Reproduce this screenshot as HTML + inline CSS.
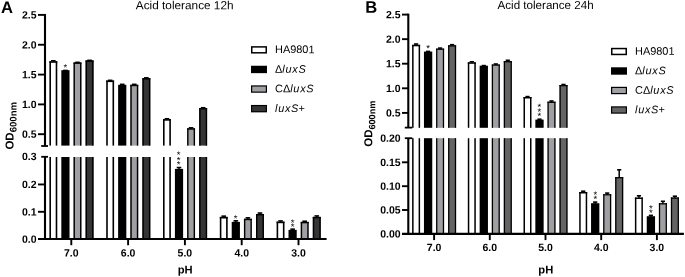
<!DOCTYPE html>
<html><head><meta charset="utf-8"><title>Acid tolerance</title>
<style>
html,body{margin:0;padding:0;background:#fff;}
body{width:685px;height:277px;overflow:hidden;}
svg{display:block;font-family:'Liberation Sans', sans-serif;}
</style></head><body>
<svg width="685" height="277" viewBox="0 0 685 277" font-family="'Liberation Sans', sans-serif">
<rect width="685" height="277" fill="#fff"/>
<rect x="49.39" y="61.20" width="7.90" height="84.40" fill="#ffffff"/>
<rect x="49.39" y="61.20" width="1.60" height="84.40" fill="#000"/>
<rect x="55.69" y="61.20" width="1.60" height="84.40" fill="#000"/>
<rect x="49.39" y="61.20" width="7.90" height="1.60" fill="#000"/>
<rect x="49.39" y="157.00" width="7.90" height="82.00" fill="#ffffff"/>
<rect x="49.39" y="157.00" width="1.60" height="82.00" fill="#000"/>
<rect x="55.69" y="157.00" width="1.60" height="82.00" fill="#000"/>
<line x1="53.34" y1="60.80" x2="53.34" y2="61.70" stroke="#000" stroke-width="1.5" stroke-linecap="butt"/>
<line x1="51.04" y1="60.80" x2="55.64" y2="60.80" stroke="#000" stroke-width="1.6" stroke-linecap="butt"/>
<rect x="61.32" y="70.20" width="8.20" height="75.40" fill="#000000"/>
<rect x="61.32" y="157.00" width="8.20" height="82.00" fill="#000000"/>
<line x1="65.42" y1="70.45" x2="65.42" y2="70.70" stroke="#000" stroke-width="1.5" stroke-linecap="butt"/>
<line x1="63.12" y1="70.45" x2="67.72" y2="70.45" stroke="#000" stroke-width="1.6" stroke-linecap="butt"/>
<rect x="73.53" y="62.50" width="7.90" height="83.10" fill="#a0a0a4"/>
<rect x="73.53" y="62.50" width="1.40" height="83.10" fill="#000"/>
<rect x="80.03" y="62.50" width="1.40" height="83.10" fill="#000"/>
<rect x="73.53" y="62.50" width="7.90" height="1.40" fill="#000"/>
<rect x="73.53" y="157.00" width="7.90" height="82.00" fill="#a0a0a4"/>
<rect x="73.53" y="157.00" width="1.40" height="82.00" fill="#000"/>
<rect x="80.03" y="157.00" width="1.40" height="82.00" fill="#000"/>
<line x1="77.48" y1="62.35" x2="77.48" y2="63.00" stroke="#000" stroke-width="1.5" stroke-linecap="butt"/>
<line x1="75.19" y1="62.35" x2="79.78" y2="62.35" stroke="#000" stroke-width="1.6" stroke-linecap="butt"/>
<rect x="85.61" y="60.50" width="7.90" height="85.10" fill="#353535"/>
<rect x="85.61" y="60.50" width="1.40" height="85.10" fill="#000"/>
<rect x="92.11" y="60.50" width="1.40" height="85.10" fill="#000"/>
<rect x="85.61" y="60.50" width="7.90" height="1.40" fill="#000"/>
<rect x="85.61" y="157.00" width="7.90" height="82.00" fill="#353535"/>
<rect x="85.61" y="157.00" width="1.40" height="82.00" fill="#000"/>
<rect x="92.11" y="157.00" width="1.40" height="82.00" fill="#000"/>
<line x1="89.56" y1="60.35" x2="89.56" y2="61.00" stroke="#000" stroke-width="1.5" stroke-linecap="butt"/>
<line x1="87.26" y1="60.35" x2="91.86" y2="60.35" stroke="#000" stroke-width="1.6" stroke-linecap="butt"/>
<rect x="106.19" y="80.50" width="7.90" height="65.10" fill="#ffffff"/>
<rect x="106.19" y="80.50" width="1.60" height="65.10" fill="#000"/>
<rect x="112.50" y="80.50" width="1.60" height="65.10" fill="#000"/>
<rect x="106.19" y="80.50" width="7.90" height="1.60" fill="#000"/>
<rect x="106.19" y="157.00" width="7.90" height="82.00" fill="#ffffff"/>
<rect x="106.19" y="157.00" width="1.60" height="82.00" fill="#000"/>
<rect x="112.50" y="157.00" width="1.60" height="82.00" fill="#000"/>
<line x1="110.14" y1="80.35" x2="110.14" y2="81.00" stroke="#000" stroke-width="1.5" stroke-linecap="butt"/>
<line x1="107.84" y1="80.35" x2="112.44" y2="80.35" stroke="#000" stroke-width="1.6" stroke-linecap="butt"/>
<rect x="118.12" y="84.80" width="8.20" height="60.80" fill="#000000"/>
<rect x="118.12" y="157.00" width="8.20" height="82.00" fill="#000000"/>
<line x1="122.22" y1="84.35" x2="122.22" y2="85.30" stroke="#000" stroke-width="1.5" stroke-linecap="butt"/>
<line x1="119.92" y1="84.35" x2="124.52" y2="84.35" stroke="#000" stroke-width="1.6" stroke-linecap="butt"/>
<rect x="130.34" y="84.80" width="7.90" height="60.80" fill="#a0a0a4"/>
<rect x="130.34" y="84.80" width="1.40" height="60.80" fill="#000"/>
<rect x="136.83" y="84.80" width="1.40" height="60.80" fill="#000"/>
<rect x="130.34" y="84.80" width="7.90" height="1.40" fill="#000"/>
<rect x="130.34" y="157.00" width="7.90" height="82.00" fill="#a0a0a4"/>
<rect x="130.34" y="157.00" width="1.40" height="82.00" fill="#000"/>
<rect x="136.83" y="157.00" width="1.40" height="82.00" fill="#000"/>
<line x1="134.28" y1="84.35" x2="134.28" y2="85.30" stroke="#000" stroke-width="1.5" stroke-linecap="butt"/>
<line x1="131.98" y1="84.35" x2="136.59" y2="84.35" stroke="#000" stroke-width="1.6" stroke-linecap="butt"/>
<rect x="142.41" y="78.20" width="7.90" height="67.40" fill="#353535"/>
<rect x="142.41" y="78.20" width="1.40" height="67.40" fill="#000"/>
<rect x="148.90" y="78.20" width="1.40" height="67.40" fill="#000"/>
<rect x="142.41" y="78.20" width="7.90" height="1.40" fill="#000"/>
<rect x="142.41" y="157.00" width="7.90" height="82.00" fill="#353535"/>
<rect x="142.41" y="157.00" width="1.40" height="82.00" fill="#000"/>
<rect x="148.90" y="157.00" width="1.40" height="82.00" fill="#000"/>
<line x1="146.35" y1="77.85" x2="146.35" y2="78.70" stroke="#000" stroke-width="1.5" stroke-linecap="butt"/>
<line x1="144.05" y1="77.85" x2="148.66" y2="77.85" stroke="#000" stroke-width="1.6" stroke-linecap="butt"/>
<rect x="163.00" y="119.10" width="7.90" height="26.50" fill="#ffffff"/>
<rect x="163.00" y="119.10" width="1.60" height="26.50" fill="#000"/>
<rect x="169.29" y="119.10" width="1.60" height="26.50" fill="#000"/>
<rect x="163.00" y="119.10" width="7.90" height="1.60" fill="#000"/>
<rect x="163.00" y="157.00" width="7.90" height="82.00" fill="#ffffff"/>
<rect x="163.00" y="157.00" width="1.60" height="82.00" fill="#000"/>
<rect x="169.29" y="157.00" width="1.60" height="82.00" fill="#000"/>
<line x1="166.94" y1="118.75" x2="166.94" y2="119.60" stroke="#000" stroke-width="1.5" stroke-linecap="butt"/>
<line x1="164.64" y1="118.75" x2="169.25" y2="118.75" stroke="#000" stroke-width="1.6" stroke-linecap="butt"/>
<rect x="174.91" y="168.90" width="8.20" height="70.10" fill="#000000"/>
<line x1="179.01" y1="167.55" x2="179.01" y2="169.40" stroke="#000" stroke-width="1.5" stroke-linecap="butt"/>
<line x1="176.71" y1="167.55" x2="181.31" y2="167.55" stroke="#000" stroke-width="1.6" stroke-linecap="butt"/>
<rect x="187.13" y="128.30" width="7.90" height="17.30" fill="#a0a0a4"/>
<rect x="187.13" y="128.30" width="1.40" height="17.30" fill="#000"/>
<rect x="193.63" y="128.30" width="1.40" height="17.30" fill="#000"/>
<rect x="187.13" y="128.30" width="7.90" height="1.40" fill="#000"/>
<rect x="187.13" y="157.00" width="7.90" height="82.00" fill="#a0a0a4"/>
<rect x="187.13" y="157.00" width="1.40" height="82.00" fill="#000"/>
<rect x="193.63" y="157.00" width="1.40" height="82.00" fill="#000"/>
<line x1="191.08" y1="127.85" x2="191.08" y2="128.80" stroke="#000" stroke-width="1.5" stroke-linecap="butt"/>
<line x1="188.78" y1="127.85" x2="193.38" y2="127.85" stroke="#000" stroke-width="1.6" stroke-linecap="butt"/>
<rect x="199.20" y="108.10" width="7.90" height="37.50" fill="#353535"/>
<rect x="199.20" y="108.10" width="1.40" height="37.50" fill="#000"/>
<rect x="205.70" y="108.10" width="1.40" height="37.50" fill="#000"/>
<rect x="199.20" y="108.10" width="7.90" height="1.40" fill="#000"/>
<rect x="199.20" y="157.00" width="7.90" height="82.00" fill="#353535"/>
<rect x="199.20" y="157.00" width="1.40" height="82.00" fill="#000"/>
<rect x="205.70" y="157.00" width="1.40" height="82.00" fill="#000"/>
<line x1="203.15" y1="107.75" x2="203.15" y2="108.60" stroke="#000" stroke-width="1.5" stroke-linecap="butt"/>
<line x1="200.85" y1="107.75" x2="205.45" y2="107.75" stroke="#000" stroke-width="1.6" stroke-linecap="butt"/>
<rect x="219.80" y="216.90" width="7.90" height="22.10" fill="#ffffff"/>
<rect x="219.80" y="216.90" width="1.60" height="22.10" fill="#000"/>
<rect x="226.09" y="216.90" width="1.60" height="22.10" fill="#000"/>
<rect x="219.80" y="216.90" width="7.90" height="1.60" fill="#000"/>
<line x1="223.75" y1="216.15" x2="223.75" y2="217.40" stroke="#000" stroke-width="1.5" stroke-linecap="butt"/>
<line x1="221.44" y1="216.15" x2="226.05" y2="216.15" stroke="#000" stroke-width="1.6" stroke-linecap="butt"/>
<rect x="231.72" y="221.90" width="8.20" height="17.10" fill="#000000"/>
<line x1="235.81" y1="220.85" x2="235.81" y2="222.40" stroke="#000" stroke-width="1.5" stroke-linecap="butt"/>
<line x1="233.51" y1="220.85" x2="238.12" y2="220.85" stroke="#000" stroke-width="1.6" stroke-linecap="butt"/>
<rect x="243.94" y="218.80" width="7.90" height="20.20" fill="#a0a0a4"/>
<rect x="243.94" y="218.80" width="1.40" height="20.20" fill="#000"/>
<rect x="250.43" y="218.80" width="1.40" height="20.20" fill="#000"/>
<rect x="243.94" y="218.80" width="7.90" height="1.40" fill="#000"/>
<line x1="247.88" y1="217.85" x2="247.88" y2="219.30" stroke="#000" stroke-width="1.5" stroke-linecap="butt"/>
<line x1="245.58" y1="217.85" x2="250.19" y2="217.85" stroke="#000" stroke-width="1.6" stroke-linecap="butt"/>
<rect x="256.00" y="214.00" width="7.90" height="25.00" fill="#353535"/>
<rect x="256.00" y="214.00" width="1.40" height="25.00" fill="#000"/>
<rect x="262.50" y="214.00" width="1.40" height="25.00" fill="#000"/>
<rect x="256.00" y="214.00" width="7.90" height="1.40" fill="#000"/>
<line x1="259.95" y1="213.05" x2="259.95" y2="214.50" stroke="#000" stroke-width="1.5" stroke-linecap="butt"/>
<line x1="257.65" y1="213.05" x2="262.25" y2="213.05" stroke="#000" stroke-width="1.6" stroke-linecap="butt"/>
<rect x="276.59" y="221.60" width="7.90" height="17.40" fill="#ffffff"/>
<rect x="276.59" y="221.60" width="1.60" height="17.40" fill="#000"/>
<rect x="282.89" y="221.60" width="1.60" height="17.40" fill="#000"/>
<rect x="276.59" y="221.60" width="7.90" height="1.60" fill="#000"/>
<line x1="280.54" y1="220.95" x2="280.54" y2="222.10" stroke="#000" stroke-width="1.5" stroke-linecap="butt"/>
<line x1="278.24" y1="220.95" x2="282.84" y2="220.95" stroke="#000" stroke-width="1.6" stroke-linecap="butt"/>
<rect x="288.51" y="229.90" width="8.20" height="9.10" fill="#000000"/>
<line x1="292.61" y1="229.15" x2="292.61" y2="230.40" stroke="#000" stroke-width="1.5" stroke-linecap="butt"/>
<line x1="290.31" y1="229.15" x2="294.91" y2="229.15" stroke="#000" stroke-width="1.6" stroke-linecap="butt"/>
<rect x="300.74" y="221.90" width="7.90" height="17.10" fill="#a0a0a4"/>
<rect x="300.74" y="221.90" width="1.40" height="17.10" fill="#000"/>
<rect x="307.24" y="221.90" width="1.40" height="17.10" fill="#000"/>
<rect x="300.74" y="221.90" width="7.90" height="1.40" fill="#000"/>
<line x1="304.69" y1="221.25" x2="304.69" y2="222.40" stroke="#000" stroke-width="1.5" stroke-linecap="butt"/>
<line x1="302.38" y1="221.25" x2="306.99" y2="221.25" stroke="#000" stroke-width="1.6" stroke-linecap="butt"/>
<rect x="312.81" y="216.90" width="7.90" height="22.10" fill="#353535"/>
<rect x="312.81" y="216.90" width="1.40" height="22.10" fill="#000"/>
<rect x="319.31" y="216.90" width="1.40" height="22.10" fill="#000"/>
<rect x="312.81" y="216.90" width="7.90" height="1.40" fill="#000"/>
<line x1="316.75" y1="215.95" x2="316.75" y2="217.40" stroke="#000" stroke-width="1.5" stroke-linecap="butt"/>
<line x1="314.45" y1="215.95" x2="319.06" y2="215.95" stroke="#000" stroke-width="1.6" stroke-linecap="butt"/>
<line x1="45.00" y1="13.95" x2="45.00" y2="146.00" stroke="#000" stroke-width="2.1" stroke-linecap="butt"/>
<line x1="45.00" y1="156.80" x2="45.00" y2="239.00" stroke="#000" stroke-width="2.1" stroke-linecap="butt"/>
<line x1="41.20" y1="146.00" x2="48.00" y2="146.00" stroke="#000" stroke-width="1.8" stroke-linecap="butt"/>
<line x1="41.20" y1="156.80" x2="48.00" y2="156.80" stroke="#000" stroke-width="1.8" stroke-linecap="butt"/>
<line x1="38.00" y1="239.00" x2="326.60" y2="239.00" stroke="#000" stroke-width="2.2" stroke-linecap="butt"/>
<line x1="38.00" y1="14.90" x2="45.00" y2="14.90" stroke="#000" stroke-width="1.9000000000000001" stroke-linecap="butt"/>
<text transform="translate(36.60,18.55) rotate(0.05)" font-size="10.5" font-weight="bold" font-style="normal" text-anchor="end" fill="#000" >2.5</text>
<line x1="38.00" y1="44.75" x2="45.00" y2="44.75" stroke="#000" stroke-width="1.9000000000000001" stroke-linecap="butt"/>
<text transform="translate(36.60,48.40) rotate(0.05)" font-size="10.5" font-weight="bold" font-style="normal" text-anchor="end" fill="#000" >2.0</text>
<line x1="38.00" y1="74.60" x2="45.00" y2="74.60" stroke="#000" stroke-width="1.9000000000000001" stroke-linecap="butt"/>
<text transform="translate(36.60,78.25) rotate(0.05)" font-size="10.5" font-weight="bold" font-style="normal" text-anchor="end" fill="#000" >1.5</text>
<line x1="38.00" y1="104.40" x2="45.00" y2="104.40" stroke="#000" stroke-width="1.9000000000000001" stroke-linecap="butt"/>
<text transform="translate(36.60,108.05) rotate(0.05)" font-size="10.5" font-weight="bold" font-style="normal" text-anchor="end" fill="#000" >1.0</text>
<line x1="38.00" y1="134.20" x2="45.00" y2="134.20" stroke="#000" stroke-width="1.9000000000000001" stroke-linecap="butt"/>
<text transform="translate(36.60,137.85) rotate(0.05)" font-size="10.5" font-weight="bold" font-style="normal" text-anchor="end" fill="#000" >0.5</text>
<text transform="translate(36.60,159.95) rotate(0.05)" font-size="10.5" font-weight="bold" font-style="normal" text-anchor="end" fill="#000" >0.3</text>
<line x1="38.00" y1="184.45" x2="45.00" y2="184.45" stroke="#000" stroke-width="1.9000000000000001" stroke-linecap="butt"/>
<text transform="translate(36.60,188.10) rotate(0.05)" font-size="10.5" font-weight="bold" font-style="normal" text-anchor="end" fill="#000" >0.2</text>
<line x1="38.00" y1="211.80" x2="45.00" y2="211.80" stroke="#000" stroke-width="1.9000000000000001" stroke-linecap="butt"/>
<text transform="translate(36.60,215.45) rotate(0.05)" font-size="10.5" font-weight="bold" font-style="normal" text-anchor="end" fill="#000" >0.1</text>
<text transform="translate(36.60,242.65) rotate(0.05)" font-size="10.5" font-weight="bold" font-style="normal" text-anchor="end" fill="#000" >0.0</text>
<line x1="71.30" y1="239.00" x2="71.30" y2="245.20" stroke="#000" stroke-width="1.9000000000000001" stroke-linecap="butt"/>
<text transform="translate(71.30,256.60) rotate(0.05)" font-size="10.5" font-weight="bold" font-style="normal" text-anchor="middle" fill="#000" >7.0</text>
<line x1="128.10" y1="239.00" x2="128.10" y2="245.20" stroke="#000" stroke-width="1.9000000000000001" stroke-linecap="butt"/>
<text transform="translate(128.10,256.60) rotate(0.05)" font-size="10.5" font-weight="bold" font-style="normal" text-anchor="middle" fill="#000" >6.0</text>
<line x1="184.90" y1="239.00" x2="184.90" y2="245.20" stroke="#000" stroke-width="1.9000000000000001" stroke-linecap="butt"/>
<text transform="translate(184.90,256.60) rotate(0.05)" font-size="10.5" font-weight="bold" font-style="normal" text-anchor="middle" fill="#000" >5.0</text>
<line x1="241.70" y1="239.00" x2="241.70" y2="245.20" stroke="#000" stroke-width="1.9000000000000001" stroke-linecap="butt"/>
<text transform="translate(241.70,256.60) rotate(0.05)" font-size="10.5" font-weight="bold" font-style="normal" text-anchor="middle" fill="#000" >4.0</text>
<line x1="298.50" y1="239.00" x2="298.50" y2="245.20" stroke="#000" stroke-width="1.9000000000000001" stroke-linecap="butt"/>
<text transform="translate(298.50,256.60) rotate(0.05)" font-size="10.5" font-weight="bold" font-style="normal" text-anchor="middle" fill="#000" >3.0</text>
<text transform="translate(185.10,273.50) rotate(0.05)" font-size="11.2" font-weight="bold" font-style="normal" text-anchor="middle" fill="#000" >pH</text>
<text transform="translate(184.70,9.20) rotate(0.05)" font-size="11.8" font-weight="normal" font-style="normal" text-anchor="middle" fill="#000" >Acid tolerance 12h</text>
<text transform="translate(1.00,12.90) rotate(0.05)" font-size="16.6" font-weight="bold" font-style="normal" text-anchor="start" fill="#000" >A</text>
<text transform="translate(13.5,149.6) rotate(-89.95)" font-size="11.5" font-weight="bold" text-anchor="start">OD<tspan font-size="9.6" dy="3.0">600nm</tspan></text>
<rect x="251.00" y="46.15" width="16" height="7.4" fill="#000"/>
<rect x="252.50" y="47.65" width="13.0" height="4.4" fill="#ffffff"/>
<text transform="translate(275.00,53.10) rotate(0.05)" font-size="10.95" font-weight="normal" font-style="normal" text-anchor="start" fill="#000" >HA9801</text>
<rect x="251.00" y="65.75" width="16" height="7.4" fill="#000"/>
<text transform="translate(275.00,72.70) rotate(0.05)" font-size="10.95" font-weight="normal" font-style="normal" text-anchor="start" fill="#000" >Δ<tspan font-style="italic" letter-spacing="0.7">lux</tspan><tspan font-style="italic">S</tspan></text>
<rect x="251.00" y="85.35" width="16" height="7.4" fill="#000"/>
<rect x="252.20" y="86.55" width="13.6" height="5.0" fill="#a0a0a4"/>
<text transform="translate(275.00,92.30) rotate(0.05)" font-size="10.95" font-weight="normal" font-style="normal" text-anchor="start" fill="#000" >CΔ<tspan font-style="italic" letter-spacing="0.7">lux</tspan><tspan font-style="italic">S</tspan></text>
<rect x="251.00" y="104.95" width="16" height="7.4" fill="#000"/>
<rect x="252.20" y="106.15" width="13.6" height="5.0" fill="#353535"/>
<text transform="translate(275.00,111.90) rotate(0.05)" font-size="10.95" font-weight="normal" font-style="normal" text-anchor="start" fill="#000" ><tspan font-style="italic" letter-spacing="0.7">lux</tspan><tspan font-style="italic">S</tspan>+</text>
<text transform="translate(65.40,70.80) rotate(0.05)" font-size="9.5" font-weight="normal" font-style="normal" text-anchor="middle" fill="#000" >*</text>
<text transform="translate(178.60,158.10) rotate(0.05)" font-size="9.5" font-weight="normal" font-style="normal" text-anchor="middle" fill="#000" >*</text>
<text transform="translate(178.60,163.40) rotate(0.05)" font-size="9.5" font-weight="normal" font-style="normal" text-anchor="middle" fill="#000" >*</text>
<text transform="translate(178.60,167.80) rotate(0.05)" font-size="9.5" font-weight="normal" font-style="normal" text-anchor="middle" fill="#000" >*</text>
<text transform="translate(235.50,221.70) rotate(0.05)" font-size="9.5" font-weight="normal" font-style="normal" text-anchor="middle" fill="#000" >*</text>
<text transform="translate(292.60,225.90) rotate(0.05)" font-size="9.5" font-weight="normal" font-style="normal" text-anchor="middle" fill="#000" >*</text>
<text transform="translate(292.60,229.90) rotate(0.05)" font-size="9.5" font-weight="normal" font-style="normal" text-anchor="middle" fill="#000" >*</text>
<rect x="412.10" y="44.80" width="8.00" height="83.00" fill="#ffffff"/>
<rect x="412.10" y="44.80" width="1.50" height="83.00" fill="#000"/>
<rect x="418.60" y="44.80" width="1.50" height="83.00" fill="#000"/>
<rect x="412.10" y="44.80" width="8.00" height="1.50" fill="#000"/>
<rect x="412.10" y="138.20" width="8.00" height="95.70" fill="#ffffff"/>
<rect x="412.10" y="138.20" width="1.50" height="95.70" fill="#000"/>
<rect x="418.60" y="138.20" width="1.50" height="95.70" fill="#000"/>
<line x1="416.10" y1="44.00" x2="416.10" y2="45.30" stroke="#000" stroke-width="1.5" stroke-linecap="butt"/>
<line x1="414.00" y1="44.00" x2="418.20" y2="44.00" stroke="#000" stroke-width="1.6" stroke-linecap="butt"/>
<rect x="423.95" y="51.60" width="8.30" height="76.20" fill="#000000"/>
<rect x="423.95" y="138.20" width="8.30" height="95.70" fill="#000000"/>
<line x1="428.10" y1="51.40" x2="428.10" y2="52.10" stroke="#000" stroke-width="1.5" stroke-linecap="butt"/>
<line x1="426.00" y1="51.40" x2="430.20" y2="51.40" stroke="#000" stroke-width="1.6" stroke-linecap="butt"/>
<rect x="436.10" y="48.60" width="8.00" height="79.20" fill="#a0a0a4"/>
<rect x="436.10" y="48.60" width="1.25" height="79.20" fill="#000"/>
<rect x="442.85" y="48.60" width="1.25" height="79.20" fill="#000"/>
<rect x="436.10" y="48.60" width="8.00" height="1.25" fill="#000"/>
<rect x="436.10" y="138.20" width="8.00" height="95.70" fill="#a0a0a4"/>
<rect x="436.10" y="138.20" width="1.25" height="95.70" fill="#000"/>
<rect x="442.85" y="138.20" width="1.25" height="95.70" fill="#000"/>
<line x1="440.10" y1="48.10" x2="440.10" y2="49.10" stroke="#000" stroke-width="1.5" stroke-linecap="butt"/>
<line x1="438.00" y1="48.10" x2="442.20" y2="48.10" stroke="#000" stroke-width="1.6" stroke-linecap="butt"/>
<rect x="448.10" y="45.30" width="8.00" height="82.50" fill="#646464"/>
<rect x="448.10" y="45.30" width="1.25" height="82.50" fill="#000"/>
<rect x="454.85" y="45.30" width="1.25" height="82.50" fill="#000"/>
<rect x="448.10" y="45.30" width="8.00" height="1.25" fill="#000"/>
<rect x="448.10" y="138.20" width="8.00" height="95.70" fill="#646464"/>
<rect x="448.10" y="138.20" width="1.25" height="95.70" fill="#000"/>
<rect x="454.85" y="138.20" width="1.25" height="95.70" fill="#000"/>
<line x1="452.10" y1="44.70" x2="452.10" y2="45.80" stroke="#000" stroke-width="1.5" stroke-linecap="butt"/>
<line x1="450.00" y1="44.70" x2="454.20" y2="44.70" stroke="#000" stroke-width="1.6" stroke-linecap="butt"/>
<rect x="467.80" y="62.30" width="8.00" height="65.50" fill="#ffffff"/>
<rect x="467.80" y="62.30" width="1.50" height="65.50" fill="#000"/>
<rect x="474.30" y="62.30" width="1.50" height="65.50" fill="#000"/>
<rect x="467.80" y="62.30" width="8.00" height="1.50" fill="#000"/>
<rect x="467.80" y="138.20" width="8.00" height="95.70" fill="#ffffff"/>
<rect x="467.80" y="138.20" width="1.50" height="95.70" fill="#000"/>
<rect x="474.30" y="138.20" width="1.50" height="95.70" fill="#000"/>
<line x1="471.80" y1="61.80" x2="471.80" y2="62.80" stroke="#000" stroke-width="1.5" stroke-linecap="butt"/>
<line x1="469.70" y1="61.80" x2="473.90" y2="61.80" stroke="#000" stroke-width="1.6" stroke-linecap="butt"/>
<rect x="479.65" y="65.70" width="8.30" height="62.10" fill="#000000"/>
<rect x="479.65" y="138.20" width="8.30" height="95.70" fill="#000000"/>
<line x1="483.80" y1="65.60" x2="483.80" y2="66.20" stroke="#000" stroke-width="1.5" stroke-linecap="butt"/>
<line x1="481.70" y1="65.60" x2="485.90" y2="65.60" stroke="#000" stroke-width="1.6" stroke-linecap="butt"/>
<rect x="491.80" y="64.50" width="8.00" height="63.30" fill="#a0a0a4"/>
<rect x="491.80" y="64.50" width="1.25" height="63.30" fill="#000"/>
<rect x="498.55" y="64.50" width="1.25" height="63.30" fill="#000"/>
<rect x="491.80" y="64.50" width="8.00" height="1.25" fill="#000"/>
<rect x="491.80" y="138.20" width="8.00" height="95.70" fill="#a0a0a4"/>
<rect x="491.80" y="138.20" width="1.25" height="95.70" fill="#000"/>
<rect x="498.55" y="138.20" width="1.25" height="95.70" fill="#000"/>
<line x1="495.80" y1="64.00" x2="495.80" y2="65.00" stroke="#000" stroke-width="1.5" stroke-linecap="butt"/>
<line x1="493.70" y1="64.00" x2="497.90" y2="64.00" stroke="#000" stroke-width="1.6" stroke-linecap="butt"/>
<rect x="503.80" y="61.10" width="8.00" height="66.70" fill="#646464"/>
<rect x="503.80" y="61.10" width="1.25" height="66.70" fill="#000"/>
<rect x="510.55" y="61.10" width="1.25" height="66.70" fill="#000"/>
<rect x="503.80" y="61.10" width="8.00" height="1.25" fill="#000"/>
<rect x="503.80" y="138.20" width="8.00" height="95.70" fill="#646464"/>
<rect x="503.80" y="138.20" width="1.25" height="95.70" fill="#000"/>
<rect x="510.55" y="138.20" width="1.25" height="95.70" fill="#000"/>
<line x1="507.80" y1="60.30" x2="507.80" y2="61.60" stroke="#000" stroke-width="1.5" stroke-linecap="butt"/>
<line x1="505.70" y1="60.30" x2="509.90" y2="60.30" stroke="#000" stroke-width="1.6" stroke-linecap="butt"/>
<rect x="523.50" y="97.00" width="8.00" height="30.80" fill="#ffffff"/>
<rect x="523.50" y="97.00" width="1.50" height="30.80" fill="#000"/>
<rect x="530.00" y="97.00" width="1.50" height="30.80" fill="#000"/>
<rect x="523.50" y="97.00" width="8.00" height="1.50" fill="#000"/>
<rect x="523.50" y="138.20" width="8.00" height="95.70" fill="#ffffff"/>
<rect x="523.50" y="138.20" width="1.50" height="95.70" fill="#000"/>
<rect x="530.00" y="138.20" width="1.50" height="95.70" fill="#000"/>
<line x1="527.50" y1="96.60" x2="527.50" y2="97.50" stroke="#000" stroke-width="1.5" stroke-linecap="butt"/>
<line x1="525.40" y1="96.60" x2="529.60" y2="96.60" stroke="#000" stroke-width="1.6" stroke-linecap="butt"/>
<rect x="535.35" y="119.60" width="8.30" height="8.20" fill="#000000"/>
<rect x="535.35" y="138.20" width="8.30" height="95.70" fill="#000000"/>
<line x1="539.50" y1="119.20" x2="539.50" y2="120.10" stroke="#000" stroke-width="1.5" stroke-linecap="butt"/>
<line x1="537.40" y1="119.20" x2="541.60" y2="119.20" stroke="#000" stroke-width="1.6" stroke-linecap="butt"/>
<rect x="547.50" y="101.70" width="8.00" height="26.10" fill="#a0a0a4"/>
<rect x="547.50" y="101.70" width="1.25" height="26.10" fill="#000"/>
<rect x="554.25" y="101.70" width="1.25" height="26.10" fill="#000"/>
<rect x="547.50" y="101.70" width="8.00" height="1.25" fill="#000"/>
<rect x="547.50" y="138.20" width="8.00" height="95.70" fill="#a0a0a4"/>
<rect x="547.50" y="138.20" width="1.25" height="95.70" fill="#000"/>
<rect x="554.25" y="138.20" width="1.25" height="95.70" fill="#000"/>
<line x1="551.50" y1="101.00" x2="551.50" y2="102.20" stroke="#000" stroke-width="1.5" stroke-linecap="butt"/>
<line x1="549.40" y1="101.00" x2="553.60" y2="101.00" stroke="#000" stroke-width="1.6" stroke-linecap="butt"/>
<rect x="559.50" y="85.00" width="8.00" height="42.80" fill="#646464"/>
<rect x="559.50" y="85.00" width="1.25" height="42.80" fill="#000"/>
<rect x="566.25" y="85.00" width="1.25" height="42.80" fill="#000"/>
<rect x="559.50" y="85.00" width="8.00" height="1.25" fill="#000"/>
<rect x="559.50" y="138.20" width="8.00" height="95.70" fill="#646464"/>
<rect x="559.50" y="138.20" width="1.25" height="95.70" fill="#000"/>
<rect x="566.25" y="138.20" width="1.25" height="95.70" fill="#000"/>
<line x1="563.50" y1="84.50" x2="563.50" y2="85.50" stroke="#000" stroke-width="1.5" stroke-linecap="butt"/>
<line x1="561.40" y1="84.50" x2="565.60" y2="84.50" stroke="#000" stroke-width="1.6" stroke-linecap="butt"/>
<rect x="579.20" y="192.00" width="8.00" height="41.90" fill="#ffffff"/>
<rect x="579.20" y="192.00" width="1.50" height="41.90" fill="#000"/>
<rect x="585.70" y="192.00" width="1.50" height="41.90" fill="#000"/>
<rect x="579.20" y="192.00" width="8.00" height="1.50" fill="#000"/>
<line x1="583.20" y1="191.20" x2="583.20" y2="192.50" stroke="#000" stroke-width="1.5" stroke-linecap="butt"/>
<line x1="581.10" y1="191.20" x2="585.30" y2="191.20" stroke="#000" stroke-width="1.6" stroke-linecap="butt"/>
<rect x="591.05" y="203.20" width="8.30" height="30.70" fill="#000000"/>
<line x1="595.20" y1="202.10" x2="595.20" y2="203.70" stroke="#000" stroke-width="1.5" stroke-linecap="butt"/>
<line x1="593.10" y1="202.10" x2="597.30" y2="202.10" stroke="#000" stroke-width="1.6" stroke-linecap="butt"/>
<rect x="603.20" y="194.20" width="8.00" height="39.70" fill="#a0a0a4"/>
<rect x="603.20" y="194.20" width="1.25" height="39.70" fill="#000"/>
<rect x="609.95" y="194.20" width="1.25" height="39.70" fill="#000"/>
<rect x="603.20" y="194.20" width="8.00" height="1.25" fill="#000"/>
<line x1="607.20" y1="193.10" x2="607.20" y2="194.70" stroke="#000" stroke-width="1.5" stroke-linecap="butt"/>
<line x1="605.10" y1="193.10" x2="609.30" y2="193.10" stroke="#000" stroke-width="1.6" stroke-linecap="butt"/>
<rect x="615.20" y="177.10" width="8.00" height="56.80" fill="#646464"/>
<rect x="615.20" y="177.10" width="1.25" height="56.80" fill="#000"/>
<rect x="621.95" y="177.10" width="1.25" height="56.80" fill="#000"/>
<rect x="615.20" y="177.10" width="8.00" height="1.25" fill="#000"/>
<line x1="619.20" y1="169.80" x2="619.20" y2="177.60" stroke="#000" stroke-width="1.5" stroke-linecap="butt"/>
<line x1="617.10" y1="169.80" x2="621.30" y2="169.80" stroke="#000" stroke-width="1.6" stroke-linecap="butt"/>
<rect x="634.90" y="197.50" width="8.00" height="36.40" fill="#ffffff"/>
<rect x="634.90" y="197.50" width="1.50" height="36.40" fill="#000"/>
<rect x="641.40" y="197.50" width="1.50" height="36.40" fill="#000"/>
<rect x="634.90" y="197.50" width="8.00" height="1.50" fill="#000"/>
<line x1="638.90" y1="195.80" x2="638.90" y2="198.00" stroke="#000" stroke-width="1.5" stroke-linecap="butt"/>
<line x1="636.80" y1="195.80" x2="641.00" y2="195.80" stroke="#000" stroke-width="1.6" stroke-linecap="butt"/>
<rect x="646.75" y="216.20" width="8.30" height="17.70" fill="#000000"/>
<line x1="650.90" y1="215.40" x2="650.90" y2="216.70" stroke="#000" stroke-width="1.5" stroke-linecap="butt"/>
<line x1="648.80" y1="215.40" x2="653.00" y2="215.40" stroke="#000" stroke-width="1.6" stroke-linecap="butt"/>
<rect x="658.90" y="203.20" width="8.00" height="30.70" fill="#a0a0a4"/>
<rect x="658.90" y="203.20" width="1.25" height="30.70" fill="#000"/>
<rect x="665.65" y="203.20" width="1.25" height="30.70" fill="#000"/>
<rect x="658.90" y="203.20" width="8.00" height="1.25" fill="#000"/>
<line x1="662.90" y1="201.30" x2="662.90" y2="203.70" stroke="#000" stroke-width="1.5" stroke-linecap="butt"/>
<line x1="660.80" y1="201.30" x2="665.00" y2="201.30" stroke="#000" stroke-width="1.6" stroke-linecap="butt"/>
<rect x="670.90" y="197.50" width="8.00" height="36.40" fill="#646464"/>
<rect x="670.90" y="197.50" width="1.25" height="36.40" fill="#000"/>
<rect x="677.65" y="197.50" width="1.25" height="36.40" fill="#000"/>
<rect x="670.90" y="197.50" width="8.00" height="1.25" fill="#000"/>
<line x1="674.90" y1="196.20" x2="674.90" y2="198.00" stroke="#000" stroke-width="1.5" stroke-linecap="butt"/>
<line x1="672.80" y1="196.20" x2="677.00" y2="196.20" stroke="#000" stroke-width="1.6" stroke-linecap="butt"/>
<line x1="408.30" y1="13.65" x2="408.30" y2="127.60" stroke="#000" stroke-width="2.1" stroke-linecap="butt"/>
<line x1="408.30" y1="138.20" x2="408.30" y2="233.90" stroke="#000" stroke-width="2.1" stroke-linecap="butt"/>
<line x1="404.80" y1="127.60" x2="412.30" y2="127.60" stroke="#000" stroke-width="1.8" stroke-linecap="butt"/>
<line x1="404.80" y1="138.20" x2="412.30" y2="138.20" stroke="#000" stroke-width="1.8" stroke-linecap="butt"/>
<line x1="402.00" y1="233.90" x2="683.90" y2="233.90" stroke="#000" stroke-width="2.2" stroke-linecap="butt"/>
<line x1="402.00" y1="14.60" x2="408.30" y2="14.60" stroke="#000" stroke-width="1.9000000000000001" stroke-linecap="butt"/>
<text transform="translate(400.60,18.20) rotate(0.05)" font-size="10.5" font-weight="bold" font-style="normal" text-anchor="end" fill="#000" >2.5</text>
<line x1="402.00" y1="39.15" x2="408.30" y2="39.15" stroke="#000" stroke-width="1.9000000000000001" stroke-linecap="butt"/>
<text transform="translate(400.60,42.75) rotate(0.05)" font-size="10.5" font-weight="bold" font-style="normal" text-anchor="end" fill="#000" >2.0</text>
<line x1="402.00" y1="63.70" x2="408.30" y2="63.70" stroke="#000" stroke-width="1.9000000000000001" stroke-linecap="butt"/>
<text transform="translate(400.60,67.30) rotate(0.05)" font-size="10.5" font-weight="bold" font-style="normal" text-anchor="end" fill="#000" >1.5</text>
<line x1="402.00" y1="88.30" x2="408.30" y2="88.30" stroke="#000" stroke-width="1.9000000000000001" stroke-linecap="butt"/>
<text transform="translate(400.60,91.90) rotate(0.05)" font-size="10.5" font-weight="bold" font-style="normal" text-anchor="end" fill="#000" >1.0</text>
<line x1="402.00" y1="112.90" x2="408.30" y2="112.90" stroke="#000" stroke-width="1.9000000000000001" stroke-linecap="butt"/>
<text transform="translate(400.60,116.50) rotate(0.05)" font-size="10.5" font-weight="bold" font-style="normal" text-anchor="end" fill="#000" >0.5</text>
<text transform="translate(400.60,141.70) rotate(0.05)" font-size="10.5" font-weight="bold" font-style="normal" text-anchor="end" fill="#000" >0.20</text>
<line x1="402.00" y1="162.30" x2="408.30" y2="162.30" stroke="#000" stroke-width="1.9000000000000001" stroke-linecap="butt"/>
<text transform="translate(400.60,165.90) rotate(0.05)" font-size="10.5" font-weight="bold" font-style="normal" text-anchor="end" fill="#000" >0.15</text>
<line x1="402.00" y1="186.20" x2="408.30" y2="186.20" stroke="#000" stroke-width="1.9000000000000001" stroke-linecap="butt"/>
<text transform="translate(400.60,189.80) rotate(0.05)" font-size="10.5" font-weight="bold" font-style="normal" text-anchor="end" fill="#000" >0.10</text>
<line x1="402.00" y1="210.00" x2="408.30" y2="210.00" stroke="#000" stroke-width="1.9000000000000001" stroke-linecap="butt"/>
<text transform="translate(400.60,213.60) rotate(0.05)" font-size="10.5" font-weight="bold" font-style="normal" text-anchor="end" fill="#000" >0.05</text>
<text transform="translate(400.60,237.50) rotate(0.05)" font-size="10.5" font-weight="bold" font-style="normal" text-anchor="end" fill="#000" >0.00</text>
<line x1="434.10" y1="233.90" x2="434.10" y2="240.10" stroke="#000" stroke-width="1.9000000000000001" stroke-linecap="butt"/>
<text transform="translate(434.10,250.90) rotate(0.05)" font-size="10.5" font-weight="bold" font-style="normal" text-anchor="middle" fill="#000" >7.0</text>
<line x1="489.80" y1="233.90" x2="489.80" y2="240.10" stroke="#000" stroke-width="1.9000000000000001" stroke-linecap="butt"/>
<text transform="translate(489.80,250.90) rotate(0.05)" font-size="10.5" font-weight="bold" font-style="normal" text-anchor="middle" fill="#000" >6.0</text>
<line x1="545.50" y1="233.90" x2="545.50" y2="240.10" stroke="#000" stroke-width="1.9000000000000001" stroke-linecap="butt"/>
<text transform="translate(545.50,250.90) rotate(0.05)" font-size="10.5" font-weight="bold" font-style="normal" text-anchor="middle" fill="#000" >5.0</text>
<line x1="601.20" y1="233.90" x2="601.20" y2="240.10" stroke="#000" stroke-width="1.9000000000000001" stroke-linecap="butt"/>
<text transform="translate(601.20,250.90) rotate(0.05)" font-size="10.5" font-weight="bold" font-style="normal" text-anchor="middle" fill="#000" >4.0</text>
<line x1="656.90" y1="233.90" x2="656.90" y2="240.10" stroke="#000" stroke-width="1.9000000000000001" stroke-linecap="butt"/>
<text transform="translate(656.90,250.90) rotate(0.05)" font-size="10.5" font-weight="bold" font-style="normal" text-anchor="middle" fill="#000" >3.0</text>
<text transform="translate(545.80,273.50) rotate(0.05)" font-size="11.2" font-weight="bold" font-style="normal" text-anchor="middle" fill="#000" >pH</text>
<text transform="translate(545.60,9.00) rotate(0.05)" font-size="11.6" font-weight="normal" font-style="normal" text-anchor="middle" fill="#000" >Acid tolerance 24h</text>
<text transform="translate(365.20,12.80) rotate(0.05)" font-size="16.6" font-weight="bold" font-style="normal" text-anchor="start" fill="#000" >B</text>
<text transform="translate(372.3,146.8) rotate(-89.95)" font-size="11.5" font-weight="bold" text-anchor="start">OD<tspan font-size="9.15" dy="3.0">600nm</tspan></text>
<rect x="611.00" y="47.80" width="16" height="7.4" fill="#000"/>
<rect x="612.50" y="49.30" width="13.0" height="4.4" fill="#ffffff"/>
<text transform="translate(635.00,54.80) rotate(0.05)" font-size="10.95" font-weight="normal" font-style="normal" text-anchor="start" fill="#000" >HA9801</text>
<rect x="611.00" y="67.30" width="16" height="7.4" fill="#000"/>
<text transform="translate(635.00,74.30) rotate(0.05)" font-size="10.95" font-weight="normal" font-style="normal" text-anchor="start" fill="#000" >Δ<tspan font-style="italic" letter-spacing="0.7">lux</tspan><tspan font-style="italic">S</tspan></text>
<rect x="611.00" y="86.80" width="16" height="7.4" fill="#000"/>
<rect x="612.20" y="88.00" width="13.6" height="5.0" fill="#a0a0a4"/>
<text transform="translate(635.00,93.80) rotate(0.05)" font-size="10.95" font-weight="normal" font-style="normal" text-anchor="start" fill="#000" >CΔ<tspan font-style="italic" letter-spacing="0.7">lux</tspan><tspan font-style="italic">S</tspan></text>
<rect x="611.00" y="106.30" width="16" height="7.4" fill="#000"/>
<rect x="612.20" y="107.50" width="13.6" height="5.0" fill="#646464"/>
<text transform="translate(635.00,113.30) rotate(0.05)" font-size="10.95" font-weight="normal" font-style="normal" text-anchor="start" fill="#000" ><tspan font-style="italic" letter-spacing="0.7">lux</tspan><tspan font-style="italic">S</tspan>+</text>
<text transform="translate(428.10,51.40) rotate(0.05)" font-size="9.5" font-weight="normal" font-style="normal" text-anchor="middle" fill="#000" >*</text>
<text transform="translate(539.30,110.30) rotate(0.05)" font-size="9.5" font-weight="normal" font-style="normal" text-anchor="middle" fill="#000" >*</text>
<text transform="translate(539.30,115.00) rotate(0.05)" font-size="9.5" font-weight="normal" font-style="normal" text-anchor="middle" fill="#000" >*</text>
<text transform="translate(539.30,119.20) rotate(0.05)" font-size="9.5" font-weight="normal" font-style="normal" text-anchor="middle" fill="#000" >*</text>
<text transform="translate(595.30,198.00) rotate(0.05)" font-size="9.5" font-weight="normal" font-style="normal" text-anchor="middle" fill="#000" >*</text>
<text transform="translate(595.30,202.20) rotate(0.05)" font-size="9.5" font-weight="normal" font-style="normal" text-anchor="middle" fill="#000" >*</text>
<text transform="translate(650.80,211.70) rotate(0.05)" font-size="9.5" font-weight="normal" font-style="normal" text-anchor="middle" fill="#000" >*</text>
<text transform="translate(650.80,215.90) rotate(0.05)" font-size="9.5" font-weight="normal" font-style="normal" text-anchor="middle" fill="#000" >*</text>
</svg>
</body></html>
